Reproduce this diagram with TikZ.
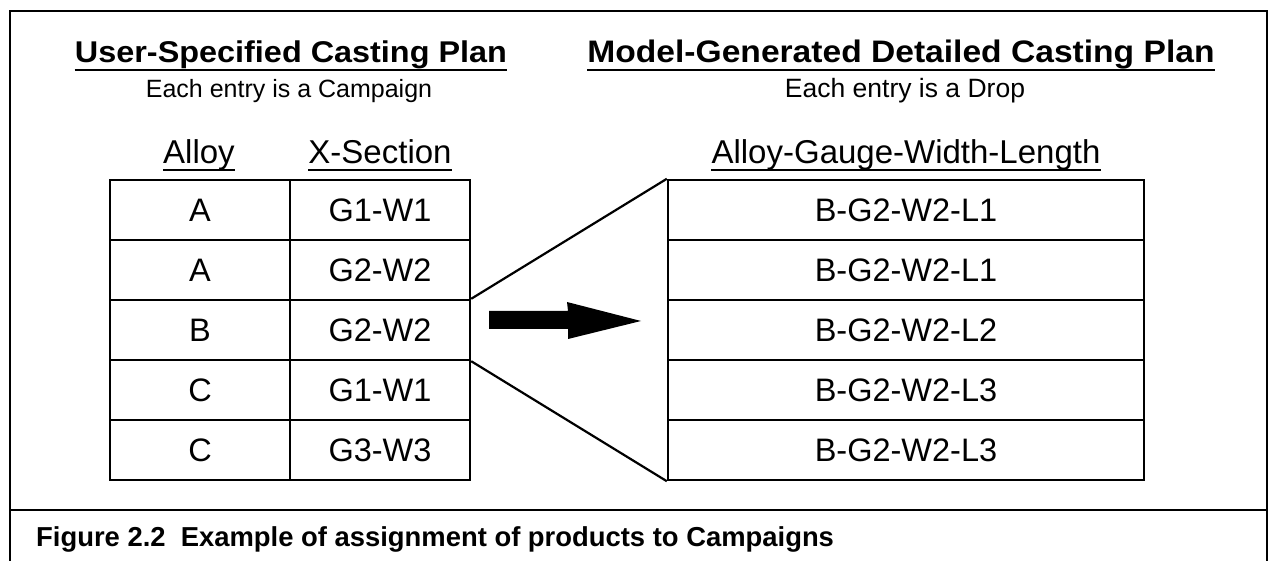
\documentclass[tikz,border=0pt]{standalone}
\usepackage{fontspec}
\setmainfont{Liberation Sans}
\newfontfamily\titlefont[FakeStretch=1.08]{Liberation Sans}
\begin{document}
\begin{tikzpicture}[x=1pt,y=-1pt,
  frameline/.style={line width=2.6pt},
  cellbox/.style={draw, line width=2.4pt, rectangle, inner sep=0pt, minimum height=60pt,
     font=\fontsize{32.5}{38}\selectfont},
  titletext/.style={anchor=base, inner sep=0pt, font=\titlefont\bfseries\fontsize{30}{35}\selectfont},
  subtext/.style={anchor=base, inner sep=0pt, font=\fontsize{25}{30}\selectfont},
  headtext/.style={anchor=base, inner sep=0pt, font=\fontsize{33}{38}\selectfont},
  uline/.style={line width=2.6pt},
  captext/.style={anchor=base west, inner sep=0pt, font=\bfseries\fontsize{27.4}{32}\selectfont}
]
\useasboundingbox (0,0) rectangle (1272,561);
% outer frame
\coordinate (fbl) at (10,561);
\coordinate (ftl) at (10,11);
\coordinate (ftr) at (1267,11);
\coordinate (fbr) at (1267,561);
\coordinate (sepl) at (10,510);
\coordinate (sepr) at (1267,510);
\draw[frameline] (fbl) -- (ftl) -- (ftr) -- (fbr);
\draw[frameline] (sepl) -- (sepr);

% titles
\node[titletext] (t1) at (291,63) {User-Specified Casting Plan};
\draw[uline] ([yshift=-7pt]t1.base west) -- ([yshift=-7pt]t1.base east);
\node[subtext] (s1) at (289,98) {Each entry is a Campaign};
\node[titletext, font=\titlefont\bfseries\fontsize{31.1}{36}\selectfont] (t2) at (901,63) {Model-Generated Detailed Casting Plan};
\draw[uline] ([yshift=-7pt]t2.base west) -- ([yshift=-7pt]t2.base east);
\node[subtext, font=\fontsize{26.5}{31}\selectfont] (s2) at (905,98) {Each entry is a Drop};

% headers
\node[headtext] (h1) at (199,164) {Alloy};
\draw[uline] ([yshift=-6pt]h1.base west) -- ([yshift=-6pt]h1.base east);
\node[headtext] (h2) at (380,164) {X-Section};
\draw[uline] ([yshift=-6pt]h2.base west) -- ([yshift=-6pt]h2.base east);
\node[headtext] (h3) at (906,164) {Alloy-Gauge-Width-Length};
\draw[uline] ([yshift=-6pt]h3.base west) -- ([yshift=-6pt]h3.base east);

% left table
\node[cellbox, minimum width=180pt] (a1) at (200,210) {A};
\node[cellbox, minimum width=180pt] (b1) at (380,210) {G1-W1};
\node[cellbox, minimum width=180pt] (a2) at (200,270) {A};
\node[cellbox, minimum width=180pt] (b2) at (380,270) {G2-W2};
\node[cellbox, minimum width=180pt] (a3) at (200,330) {B};
\node[cellbox, minimum width=180pt] (b3) at (380,330) {G2-W2};
\node[cellbox, minimum width=180pt] (a4) at (200,390) {C};
\node[cellbox, minimum width=180pt] (b4) at (380,390) {G1-W1};
\node[cellbox, minimum width=180pt] (a5) at (200,450) {C};
\node[cellbox, minimum width=180pt] (b5) at (380,450) {G3-W3};

% right table
\node[cellbox, minimum width=476pt] (r1) at (906,210) {B-G2-W2-L1};
\node[cellbox, minimum width=476pt] (r2) at (906,270) {B-G2-W2-L1};
\node[cellbox, minimum width=476pt] (r3) at (906,330) {B-G2-W2-L2};
\node[cellbox, minimum width=476pt] (r4) at (906,390) {B-G2-W2-L3};
\node[cellbox, minimum width=476pt] (r5) at (906,450) {B-G2-W2-L3};

% fan lines
\draw[line width=2.2pt] (b3.north east) -- (r1.north west);
\draw[line width=2.2pt] (b3.south east) -- (r5.south west);

% block arrow
\fill[black] (489,311) -- (568,311) -- (567,302) -- (641,321) -- (568,339) -- (568,329) -- (489,329) -- cycle;

% caption
\node[captext] (cap) at (36,546) {Figure 2.2\ \ Example of assignment of products to Campaigns};
\end{tikzpicture}
\end{document}
